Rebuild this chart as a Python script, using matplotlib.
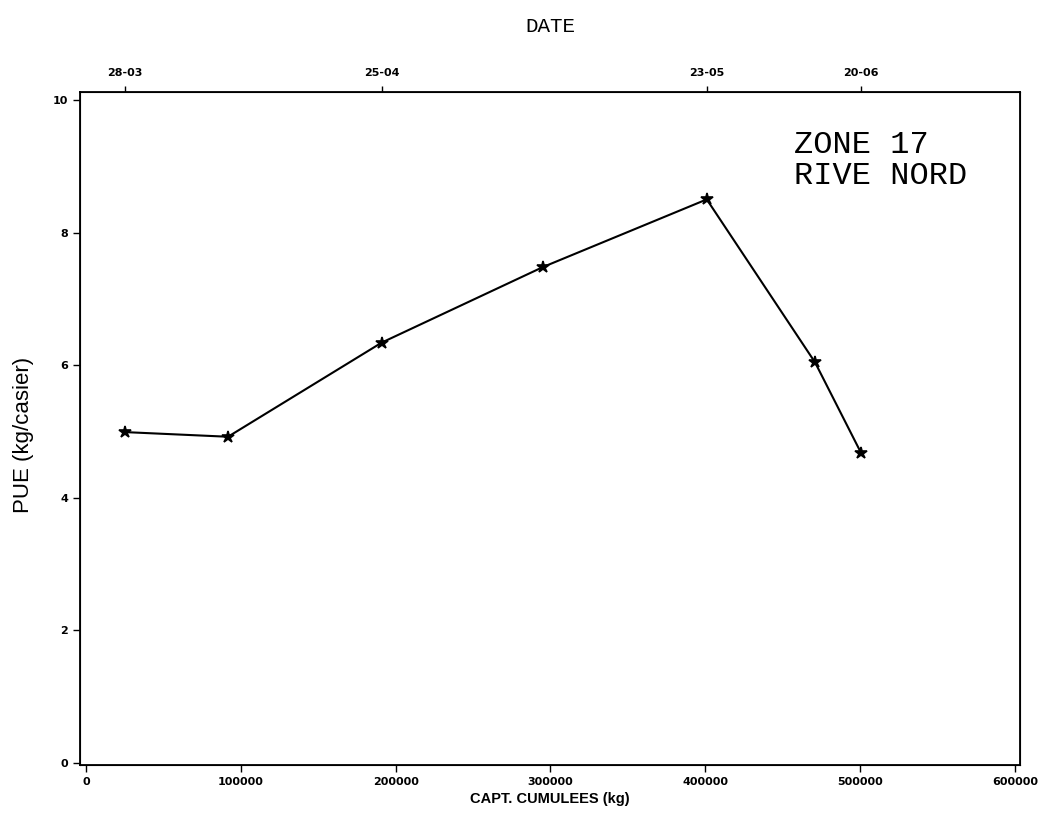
import matplotlib
matplotlib.use("Agg")
import matplotlib.pyplot as plt

# captures cumulees (kg) et PUE (kg/casier)
capt_cum = [25200, 91700, 191000, 295200, 401000, 471000, 500600]
pue = [4.99, 4.92, 6.34, 7.48, 8.50, 6.04, 4.68]

# dates (axe du haut)
date_pos = [25200, 191000, 401000, 500600]
date_labels = ["28-03", "25-04", "23-05", "20-06"]

x_ticks = [0, 100000, 200000, 300000, 400000, 500000, 600000]
y_ticks = [0, 2, 4, 6, 8, 10]

fig = plt.figure(figsize=(10.49, 8.19), dpi=100)
ax = fig.add_axes([0.0763, 0.066, 0.8961, 0.8217])

ax.plot(capt_cum, pue, color="black", linewidth=1.5, marker="*",
        markersize=9, markeredgewidth=1.2)

ax.set_xlim(-3900, 603400)
ax.set_ylim(-0.03, 10.12)
ax.set_xticks(x_ticks)
ax.set_xticklabels([str(v) for v in x_ticks])
ax.set_yticks(y_ticks)
ax.set_yticklabels([str(v) for v in y_ticks])
ax.tick_params(direction="out", length=5, width=1, labelsize=8)
for lab in ax.get_xticklabels() + ax.get_yticklabels():
    lab.set_fontweight("bold")

for sp in ax.spines.values():
    sp.set_linewidth(1.3)

ax.set_xlabel("CAPT. CUMULEES (kg)", family="Liberation Sans", fontsize=10.5,
              fontweight="bold", labelpad=4)
ax.set_ylabel("PUE (kg/casier)", family="Liberation Sans", fontsize=16)
ax.yaxis.set_label_coords(-0.049, 0.49)

# axe des dates en haut
ax2 = ax.twiny()
ax2.set_xlim(ax.get_xlim())
ax2.set_xticks(date_pos)
ax2.set_xticklabels(date_labels, fontsize=8, fontweight="bold")
ax2.tick_params(direction="out", length=4, width=1, pad=6)
ax2.set_xlabel("DATE", family="Liberation Mono", fontsize=15, labelpad=26)

ax.text(0.76, 0.898, "ZONE 17\nRIVE NORD", transform=ax.transAxes,
        family="Liberation Mono", fontsize=23, va="center", ha="left",
        linespacing=1.05)

fig.savefig("out.png", dpi=100)
